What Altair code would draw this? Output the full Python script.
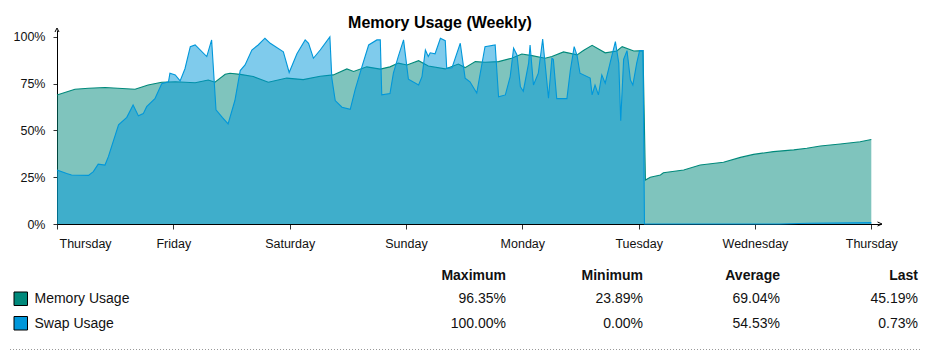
import altair as alt
import pandas as pd

# ---------------- data ----------------
day_labels = ["Thursday", "Friday", "Saturday", "Sunday", "Monday", "Tuesday", "Wednesday", "Thursday"]
day_ticks = [0, 24, 48, 72, 96, 120, 144, 168]
pct_ticks = [0, 25, 50, 75, 100]

# hours since Thursday 00:00
mem_hours = [0, 3.7, 6.5, 9.9, 16.1, 18.8, 21.6, 24.4, 28.5, 31.2, 32.6, 34.7, 35.7, 37.8, 40.5,
             43.6, 47.4, 50.8, 54.3, 57.0, 59.8, 61.2, 63.9, 66.7, 68.7, 70.4, 72.2, 74.6, 76.6, 80.1,
             82.8, 84.2, 86.3, 88.3, 91.1, 93.8, 95.9, 98.0, 100.7, 102.1, 104.5, 107.3, 108.6, 110.4, 113.1,
             115.5, 116.6, 119.0, 120.9, 121.4, 122.4, 124.5, 125.1, 129.3, 132.7, 137.5, 141.0, 143.7, 147.8, 152.0,
             154.7, 157.5, 161.6, 165.7, 168]
mem_pct = [69, 72, 72.6, 73, 72, 74.3, 75.8, 76, 75.5, 77, 75.8, 80, 80.6, 80, 78.8,
           75.8, 78, 77.2, 79, 79.7, 82.9, 81.5, 84, 82.8, 84, 86, 85, 87.3, 84.5, 82.9,
           85.5, 83.6, 86.8, 86.5, 86.8, 88.6, 90.9, 90, 88.6, 89.5, 92, 90.4, 92.7, 95.5, 91.5,
           92.5, 94.8, 92.5, 92.7, 23.5, 25, 26.2, 27.4, 28.9, 31.5, 33, 35.6, 37.2, 38.7, 39.6,
           40.5, 41.7, 42.8, 44, 45.2]

swap_hours = [0, 2, 3.0, 6.5, 7.5, 8.5, 9.9, 10.6, 12.7, 14.4, 15.7, 16.8, 17.8, 18.5, 20.2,
              21.6, 23.0, 23.3, 24.4, 25.4, 26.4, 27.5, 28.5, 30.9, 31.9, 32.8, 34.1, 35.3, 36.7, 37.8,
              38.8, 40.2, 41.5, 42.9, 44.0, 46.7, 47.9, 49.5, 51.2, 51.9, 52.9, 54.3, 56.3, 56.7, 57.4,
              58.8, 60.5, 61.5, 62.9, 64.3, 66.0, 66.7, 67.0, 68.7, 69.4, 70.4, 71.5, 72.5, 74.6, 75.3,
              76.0, 76.6, 77.0, 78.0, 79.1, 80.1, 80.4, 81.5, 83.2, 84.2, 85.2, 86.6, 88.3, 90.4, 91.1,
              92.5, 93.5, 94.2, 94.9, 95.6, 96.2, 97.3, 97.6, 98.3, 99.3, 100.2, 101.4, 102.1, 102.4, 103.1,
              105.2, 105.9, 106.7, 107.3, 107.9, 110.0, 110.4, 111.0, 111.7, 112.4, 113.1, 114.1, 115.2, 115.9, 116.3,
              116.9, 117.6, 118.3, 118.8, 119.6, 120.2, 120.9, 121.2, 149, 155, 168]
swap_pct = [28.9, 27, 26.2, 26, 28, 32, 31.5, 36, 53, 57, 63.6, 57.8, 59, 62.7, 67,
            75, 76, 80.6, 79.7, 76.5, 83, 94.8, 95.7, 89.5, 98.4, 61, 57, 53.5, 66, 82,
            85, 93, 95.7, 99.3, 96.6, 92, 81, 91, 98.4, 96.6, 88.6, 93, 100, 78, 66,
            62.4, 61.3, 71.7, 84, 95.7, 98.4, 98.4, 69, 69.7, 80.6, 89.5, 98.4, 77.4, 74.3, 78.8,
            93, 89.5, 91.5, 91, 99.3, 98, 83.2, 83.5, 96.6, 78, 76, 70, 94.8, 95.7, 68,
            69, 78.8, 94, 90.4, 73.4, 71, 86, 95.7, 74.3, 80.6, 98.8, 67.2, 88.6, 88, 67,
            67, 82, 94.8, 90, 80.6, 78, 69, 74.3, 69, 79.7, 75.3, 86, 97.5, 86, 55.2,
            88, 92.7, 77, 74.3, 86, 92.7, 92.7, 0, 0, 0.4, 0.73]

series_names = ["Memory Usage", "Swap Usage"]
series_colors = ["#00897B", "#0097DA"]
stat_headers = ["Maximum", "Minimum", "Average", "Last"]
stat_rows = [["96.35%", "23.89%", "69.04%", "45.19%"],
             ["100.00%", "0.00%", "54.53%", "0.73%"]]

# ---------------- styling ----------------
FONT = "Liberation Sans, Arial, sans-serif"
W, H = 824, 194
TXT = "#111111"

mem_df = pd.DataFrame({"hour": mem_hours, "pct": mem_pct})
swap_df = pd.DataFrame({"hour": swap_hours, "pct": swap_pct})

label_js = "[" + ",".join("'%s'" % d for d in day_labels) + "][round(datum.value / 24)]"

x_enc = alt.X(
    "hour:Q",
    scale=alt.Scale(domain=[0, 170], nice=False, zero=False),
    axis=alt.Axis(values=day_ticks, labelExpr=label_js, title=None, grid=False,
                  tickSize=5, tickColor="#333333", domainColor="#000000", domainOpacity=1,
                  labelFlush=True, labelFlushOffset=-2, labelPadding=8,
                  labelFont=FONT, labelFontSize=12.5, labelColor=TXT),
)
y_enc = alt.Y(
    "pct:Q",
    scale=alt.Scale(domain=[0, 103.7], nice=False),
    axis=alt.Axis(values=pct_ticks, labelExpr="datum.value + '%'", title=None, grid=False,
                  tickSize=4, tickColor="#333333", domainColor="#000000", domainOpacity=1,
                  labelPadding=8,
                  labelFont=FONT, labelFontSize=12.5, labelColor=TXT),
)

mem_area = alt.Chart(mem_df).mark_area(color=series_colors[0], fillOpacity=0.5).encode(x=x_enc, y=y_enc)
mem_line = alt.Chart(mem_df).mark_line(color=series_colors[0], strokeWidth=1.1).encode(x=x_enc, y=y_enc)
swap_area = alt.Chart(swap_df).mark_area(color=series_colors[1], fillOpacity=0.5).encode(x=x_enc, y=y_enc)
swap_line = alt.Chart(swap_df).mark_line(color=series_colors[1], strokeWidth=1.1).encode(x=x_enc, y=y_enc)

one = pd.DataFrame({"k": [0]})

# axis arrowheads
arrow_up = alt.Chart(one).mark_point(shape="M-0.5,1L0,0L0.5,1", size=64, filled=False, opacity=1,
                                     stroke="#000000", strokeWidth=1).encode(
    x=alt.value(0), y=alt.value(-2))
arrow_right = alt.Chart(one).mark_point(shape="M-1,-0.45L0,0L-1,0.45", size=81, filled=False, opacity=1,
                                        stroke="#000000", strokeWidth=1).encode(
    x=alt.value(W + 1), y=alt.value(H))

layers = [mem_area, mem_line, swap_area, swap_line, arrow_up, arrow_right]

# ---------------- stats table below the plot ----------------
col_right = [449, 586, 723, 861]
header_y = 246
row_y = [269, 293.5]
for hdr, cx in zip(stat_headers, col_right):
    layers.append(alt.Chart(one).mark_text(text=hdr, font=FONT, fontSize=14, fontWeight="bold",
                                           align="right", baseline="middle", color=TXT).encode(
        x=alt.value(cx), y=alt.value(header_y)))
for name, color, vals, ry in zip(series_names, series_colors, stat_rows, row_y):
    layers.append(alt.Chart(one).mark_rect(color=color, stroke="#000000", strokeWidth=1).encode(
        x=alt.value(-43), x2=alt.value(-29.5), y=alt.value(ry - 7), y2=alt.value(ry + 6.5)))
    layers.append(alt.Chart(one).mark_text(text=name, font=FONT, fontSize=14, align="left",
                                           baseline="middle", color=TXT).encode(
        x=alt.value(-22.5), y=alt.value(ry)))
    for v, cx in zip(vals, col_right):
        layers.append(alt.Chart(one).mark_text(text=v, font=FONT, fontSize=14, align="right",
                                               baseline="middle", color=TXT).encode(
            x=alt.value(cx), y=alt.value(ry)))

layers.append(alt.Chart(one).mark_rule(color="#999999", strokeDash=[1, 2], strokeWidth=1).encode(
    x=alt.value(-47), x2=alt.value(863), y=alt.value(319.5)))

chart = alt.layer(*layers).properties(
    width=W, height=H,
    background="#ffffff",
    title=alt.TitleParams("Memory Usage (Weekly)", font=FONT, fontSize=16, fontWeight="bold",
                          color="#000000", anchor="middle", frame="group", dx=-29, offset=-5),
    autosize=alt.AutoSizeParams(type="none"),
    padding={"left": 57, "top": 30, "right": 56, "bottom": 128},
).configure_view(strokeWidth=0, stroke=None)

chart.save("out.html", embed_options={"renderer": "svg", "actions": False})
